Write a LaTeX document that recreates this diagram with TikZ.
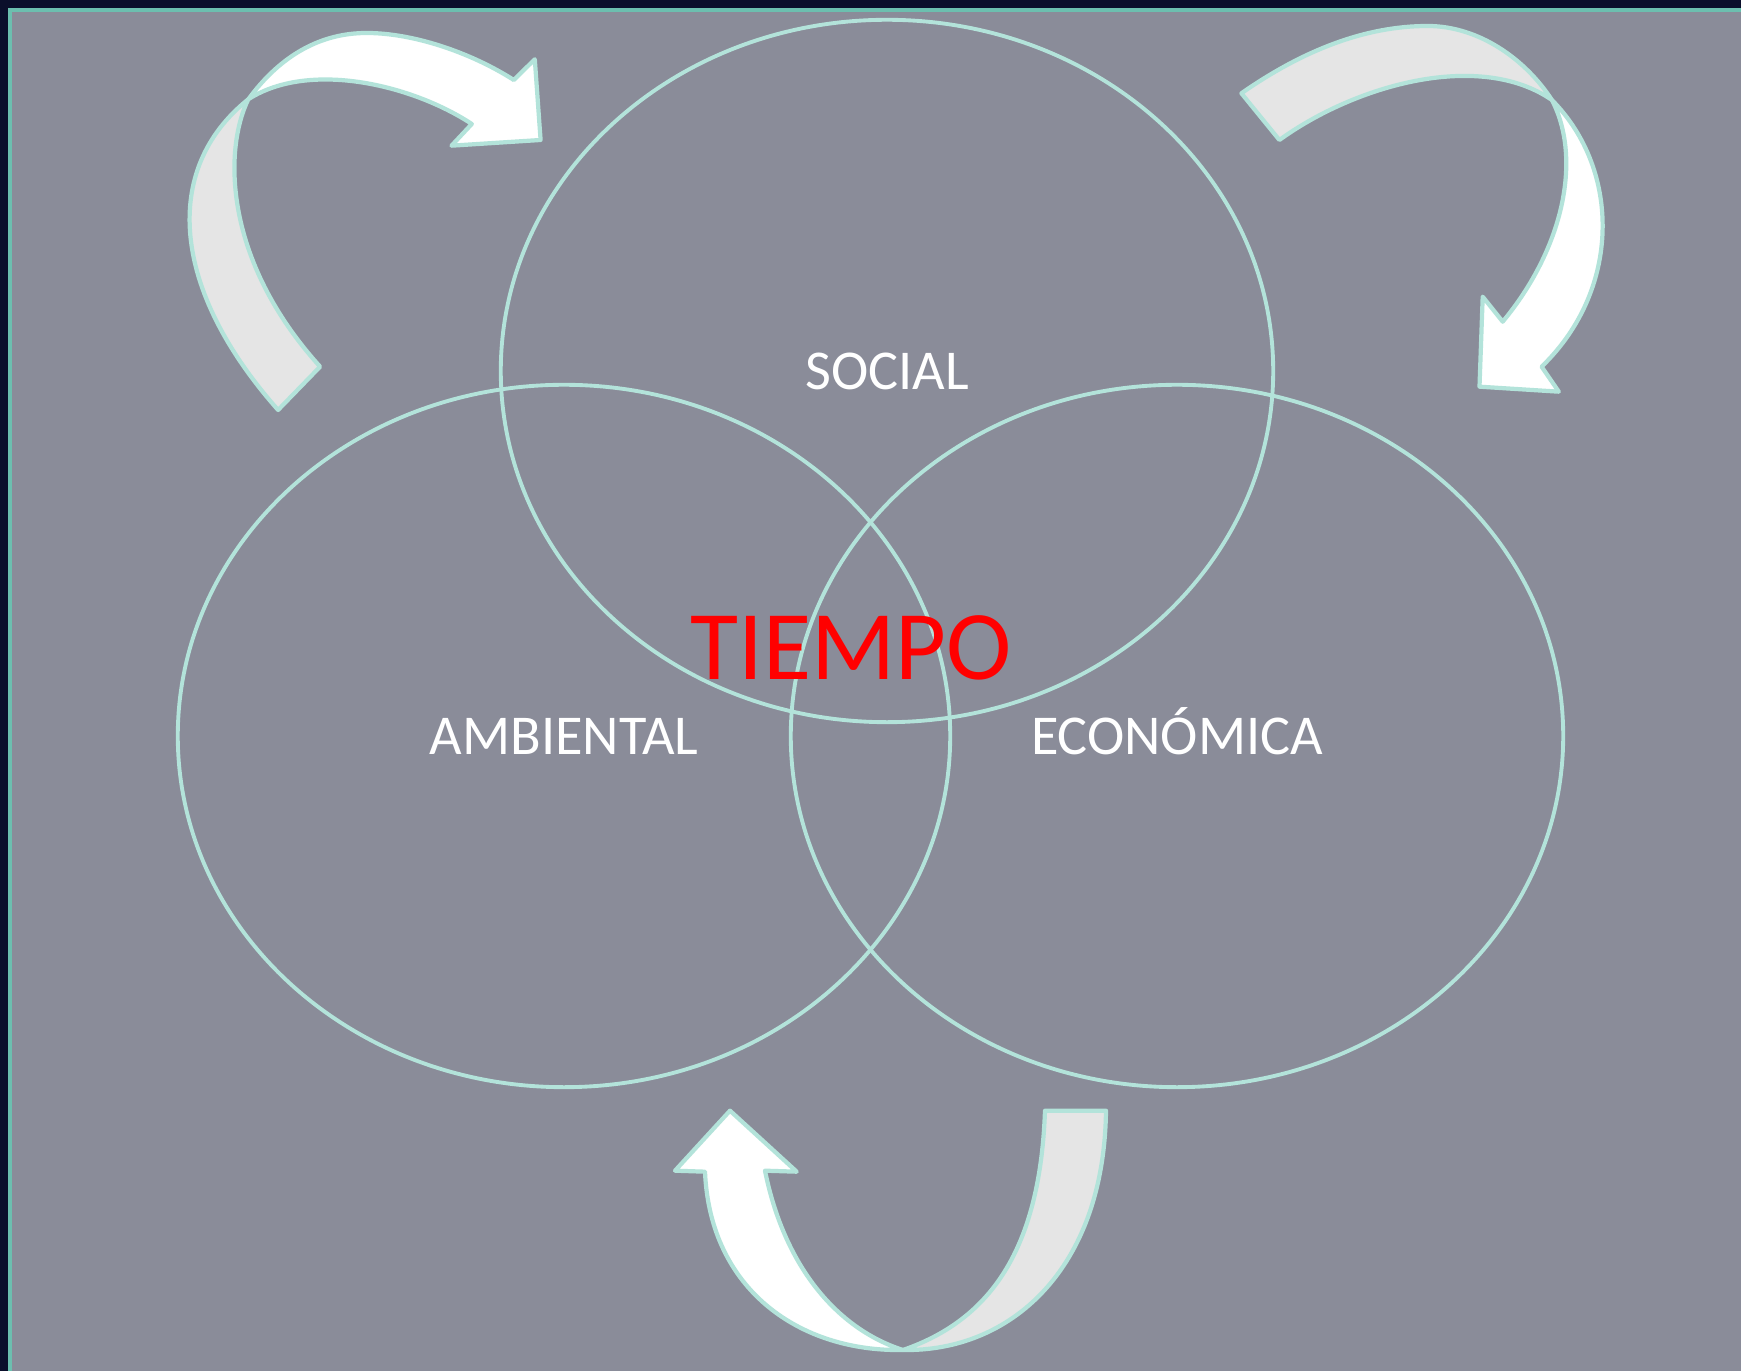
\documentclass[tikz,border=0pt]{standalone}
\usepackage{fontspec}
\setmainfont{Carlito}
\usepackage{xcolor}
\usepackage{tikz}
\usetikzlibrary{positioning,shapes.geometric,calc}
\definecolor{navy}{HTML}{0B0F2B}
\definecolor{slate}{HTML}{8A8C99}
\definecolor{rim}{HTML}{6CBFAF}
\definecolor{mint}{HTML}{B3E3DA}
\definecolor{backgrey}{HTML}{E5E5E5}
\tikzset{
  area/.style  = {ellipse, draw=mint, line width=1.1pt, inner sep=0pt,
                  minimum width=7.72cm, minimum height=7.02cm,
                  text=white, font=\fontsize{16}{19}\selectfont,
                  text height=10.3pt, text depth=0pt},
  front/.style = {fill=white, draw=mint, line width=1.2pt, line join=round},
  back/.style  = {fill=backgrey, draw=mint, line width=1.2pt, line join=round},
  time/.style  = {text=red, font=\fontsize{28}{33}\selectfont, inner sep=0pt}
}

\begin{document}
\begin{tikzpicture}[x=0.01cm, y=-0.01cm]
  \useasboundingbox (0,0) rectangle (1741,1371);
  \fill[navy] (0,0) rectangle (1741,1371);
  \fill[slate] (10,10) rectangle (1741,1371);
  \draw[rim, line width=1pt] (10,1371) -- (10,10) -- (1741,10);

  % the three spheres
  \node[area] (social)    at (887,371)  {SOCIAL};
  \node[area] (ambiental) at (564,736)  {AMBIENTAL};
  \node[area] (economica) at (1177,736) {ECONÓMICA};
  \node[time, anchor=base] (tiempo) at (851,680) {TIEMPO};

  % top left arrow
  \filldraw[back] (278.1,410) .. controls (171.9,290) and (160.4,170) .. (248.3,99.3)
    .. controls (223.5,150) and (223.5,260) .. (320.1,366.7) -- cycle;
  \filldraw[front] (248.3,99.3) .. controls (280.8,55) and (320.9,33) .. (366.7,33)
    .. controls (412.6,33) and (469.9,52) .. (513.8,80) -- (534.8,59.3) -- (540.6,140)
    -- (451.5,145.7) -- (471.8,124) .. controls (412.6,85) and (309.4,60) .. (248.3,99.3) -- cycle;

  % top right arrow
  \filldraw[back] (1241.4,93.3) .. controls (1303.5,50) and (1365.6,26) .. (1427.7,26)
    .. controls (1479.5,26) and (1526,60) .. (1551.9,100)
    .. controls (1479.5,50) and (1355.3,85) .. (1279.4,140) -- cycle;
  \filldraw[front] (1551.9,100) .. controls (1621.2,170) and (1621.2,290) .. (1541.6,366.7)
    -- (1558.8,391.7) -- (1479.5,386.7) -- (1482.7,296.7) -- (1502.7,321.7)
    .. controls (1562.3,250) and (1583,160) .. (1551.9,100) -- cycle;

  % bottom arrow
  \filldraw[back] (1106,1110.7) .. controls (1104,1270) and (1010,1352) .. (903,1350)
    .. controls (990,1320) and (1040,1250) .. (1045,1110.7) -- cycle;
  \filldraw[front] (903,1350) .. controls (800,1352) and (710,1290) .. (705,1171.7)
    -- (675,1170.7) -- (730,1110.7) -- (796.7,1171.7) -- (765,1170.7)
    .. controls (785,1270) and (840,1330) .. (903,1350) -- cycle;
\end{tikzpicture}
\end{document}
